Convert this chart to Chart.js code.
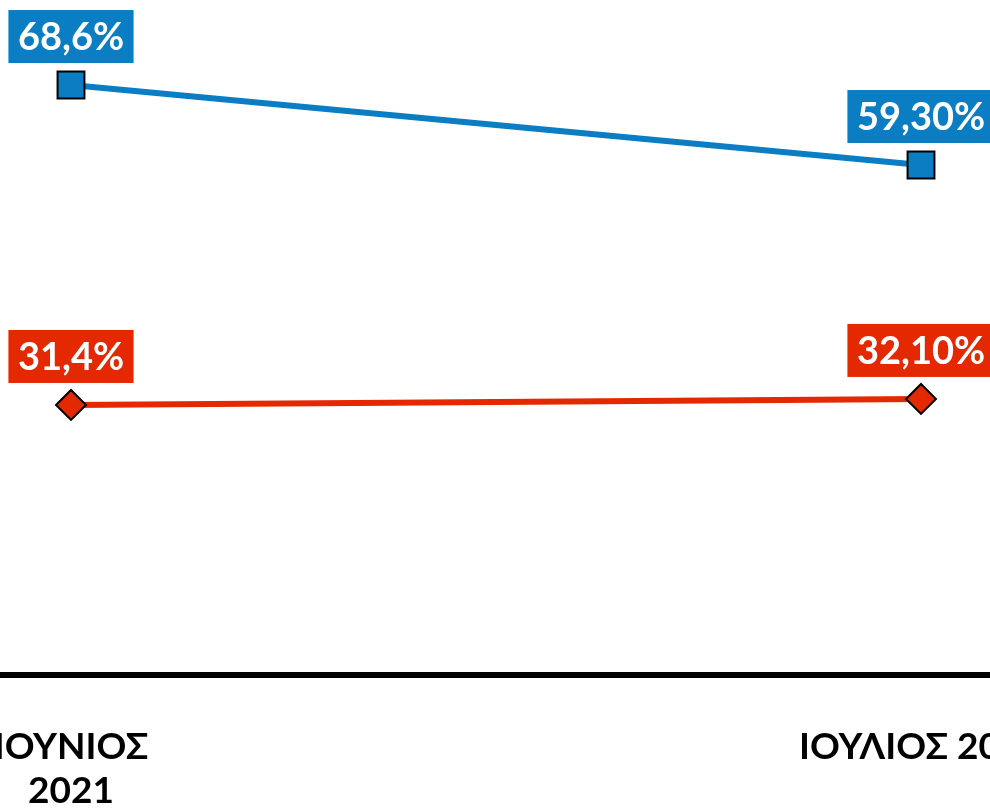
<!DOCTYPE html>
<html>
<head>
<meta charset="utf-8">
<script src="https://cdn.jsdelivr.net/npm/chart.js@4"></script>
<style>
html,body{margin:0;padding:0;background:#fff;}
#wrap{width:990px;height:811px;position:relative;}
</style>
</head>
<body>
<div id="wrap"><canvas id="c"></canvas></div>
<script>
const categories = [['ΙΟΥΝΙΟΣ', '2021'], 'ΙΟΥΛΙΟΣ 2021'];
const blueValues = [68.6, 59.3];
const redValues = [31.4, 32.1];
const blueLabels = ['68,6%', '59,30%'];
const redLabels = ['31,4%', '32,10%'];

const BLUE = '#0A7DC3';
const RED = '#E42800';

const labelPlugin = {
  id: 'boxLabels',
  afterDatasetsDraw(chart) {
    const ctx = chart.ctx;
    ctx.save();
    ctx.font = 'bold 38px Lato, "DejaVu Sans", sans-serif';
    ctx.textAlign = 'center';
    ctx.textBaseline = 'middle';
    chart.data.datasets.forEach((ds, di) => {
      const meta = chart.getDatasetMeta(di);
      meta.data.forEach((pt, i) => {
        const txt = ds.labelTexts[i];
        const w = ctx.measureText(txt).width + 19;
        const h = 53;
        const bottom = pt.y - 22;
        ctx.fillStyle = ds.borderColor;
        ctx.fillRect(pt.x - w / 2, bottom - h, w, h);
        ctx.fillStyle = '#fff';
        ctx.fillText(txt, pt.x, bottom - h / 2 + 1);
      });
    });
    ctx.restore();
  }
};

new Chart(document.getElementById('c'), {
  type: 'line',
  data: {
    datasets: [
      {
        data: blueValues.map((v, i) => ({x: i, y: v})),
        labelTexts: blueLabels,
        borderColor: BLUE,
        backgroundColor: BLUE,
        borderWidth: 6,
        pointStyle: 'rect',
        pointRadius: 19,
        pointBorderColor: '#000',
        pointBorderWidth: 2,
        pointBackgroundColor: BLUE,
        tension: 0
      },
      {
        data: redValues.map((v, i) => ({x: i, y: v})),
        labelTexts: redLabels,
        borderColor: RED,
        backgroundColor: RED,
        borderWidth: 6,
        pointStyle: 'rectRot',
        pointRadius: 15,
        pointBorderColor: '#000',
        pointBorderWidth: 2,
        pointBackgroundColor: RED,
        tension: 0
      }
    ]
  },
  options: {
    responsive: true,
    maintainAspectRatio: false,
    animation: false,
    layout: {padding: 0, autoPadding: false},
    plugins: {legend: {display: false}, tooltip: {enabled: false}},
    scales: {
      x: {
        type: 'linear',
        min: -71 / 850,
        max: 1 + 69 / 850,
        grid: {display: false, drawTicks: false},
        border: {display: true, width: 6, color: '#000'},
        afterBuildTicks: (s) => { s.ticks = categories.map((c, i) => ({value: i})); },
        afterFit: (s) => { s.height = 136; s.paddingLeft = 0; s.paddingRight = 0; },
        ticks: {
          autoSkip: false,
          maxRotation: 0,
          minRotation: 0,
          padding: 50,
          color: '#000',
          font: {family: 'Lato, "DejaVu Sans", sans-serif', size: 37, weight: 'bold', lineHeight: 1.19},
          callback: (v) => categories[v]
        }
      },
      y: {
        display: false,
        min: 0,
        max: 675 / 8.6
      }
    }
  },
  plugins: [labelPlugin]
});
</script>
</body>
</html>
